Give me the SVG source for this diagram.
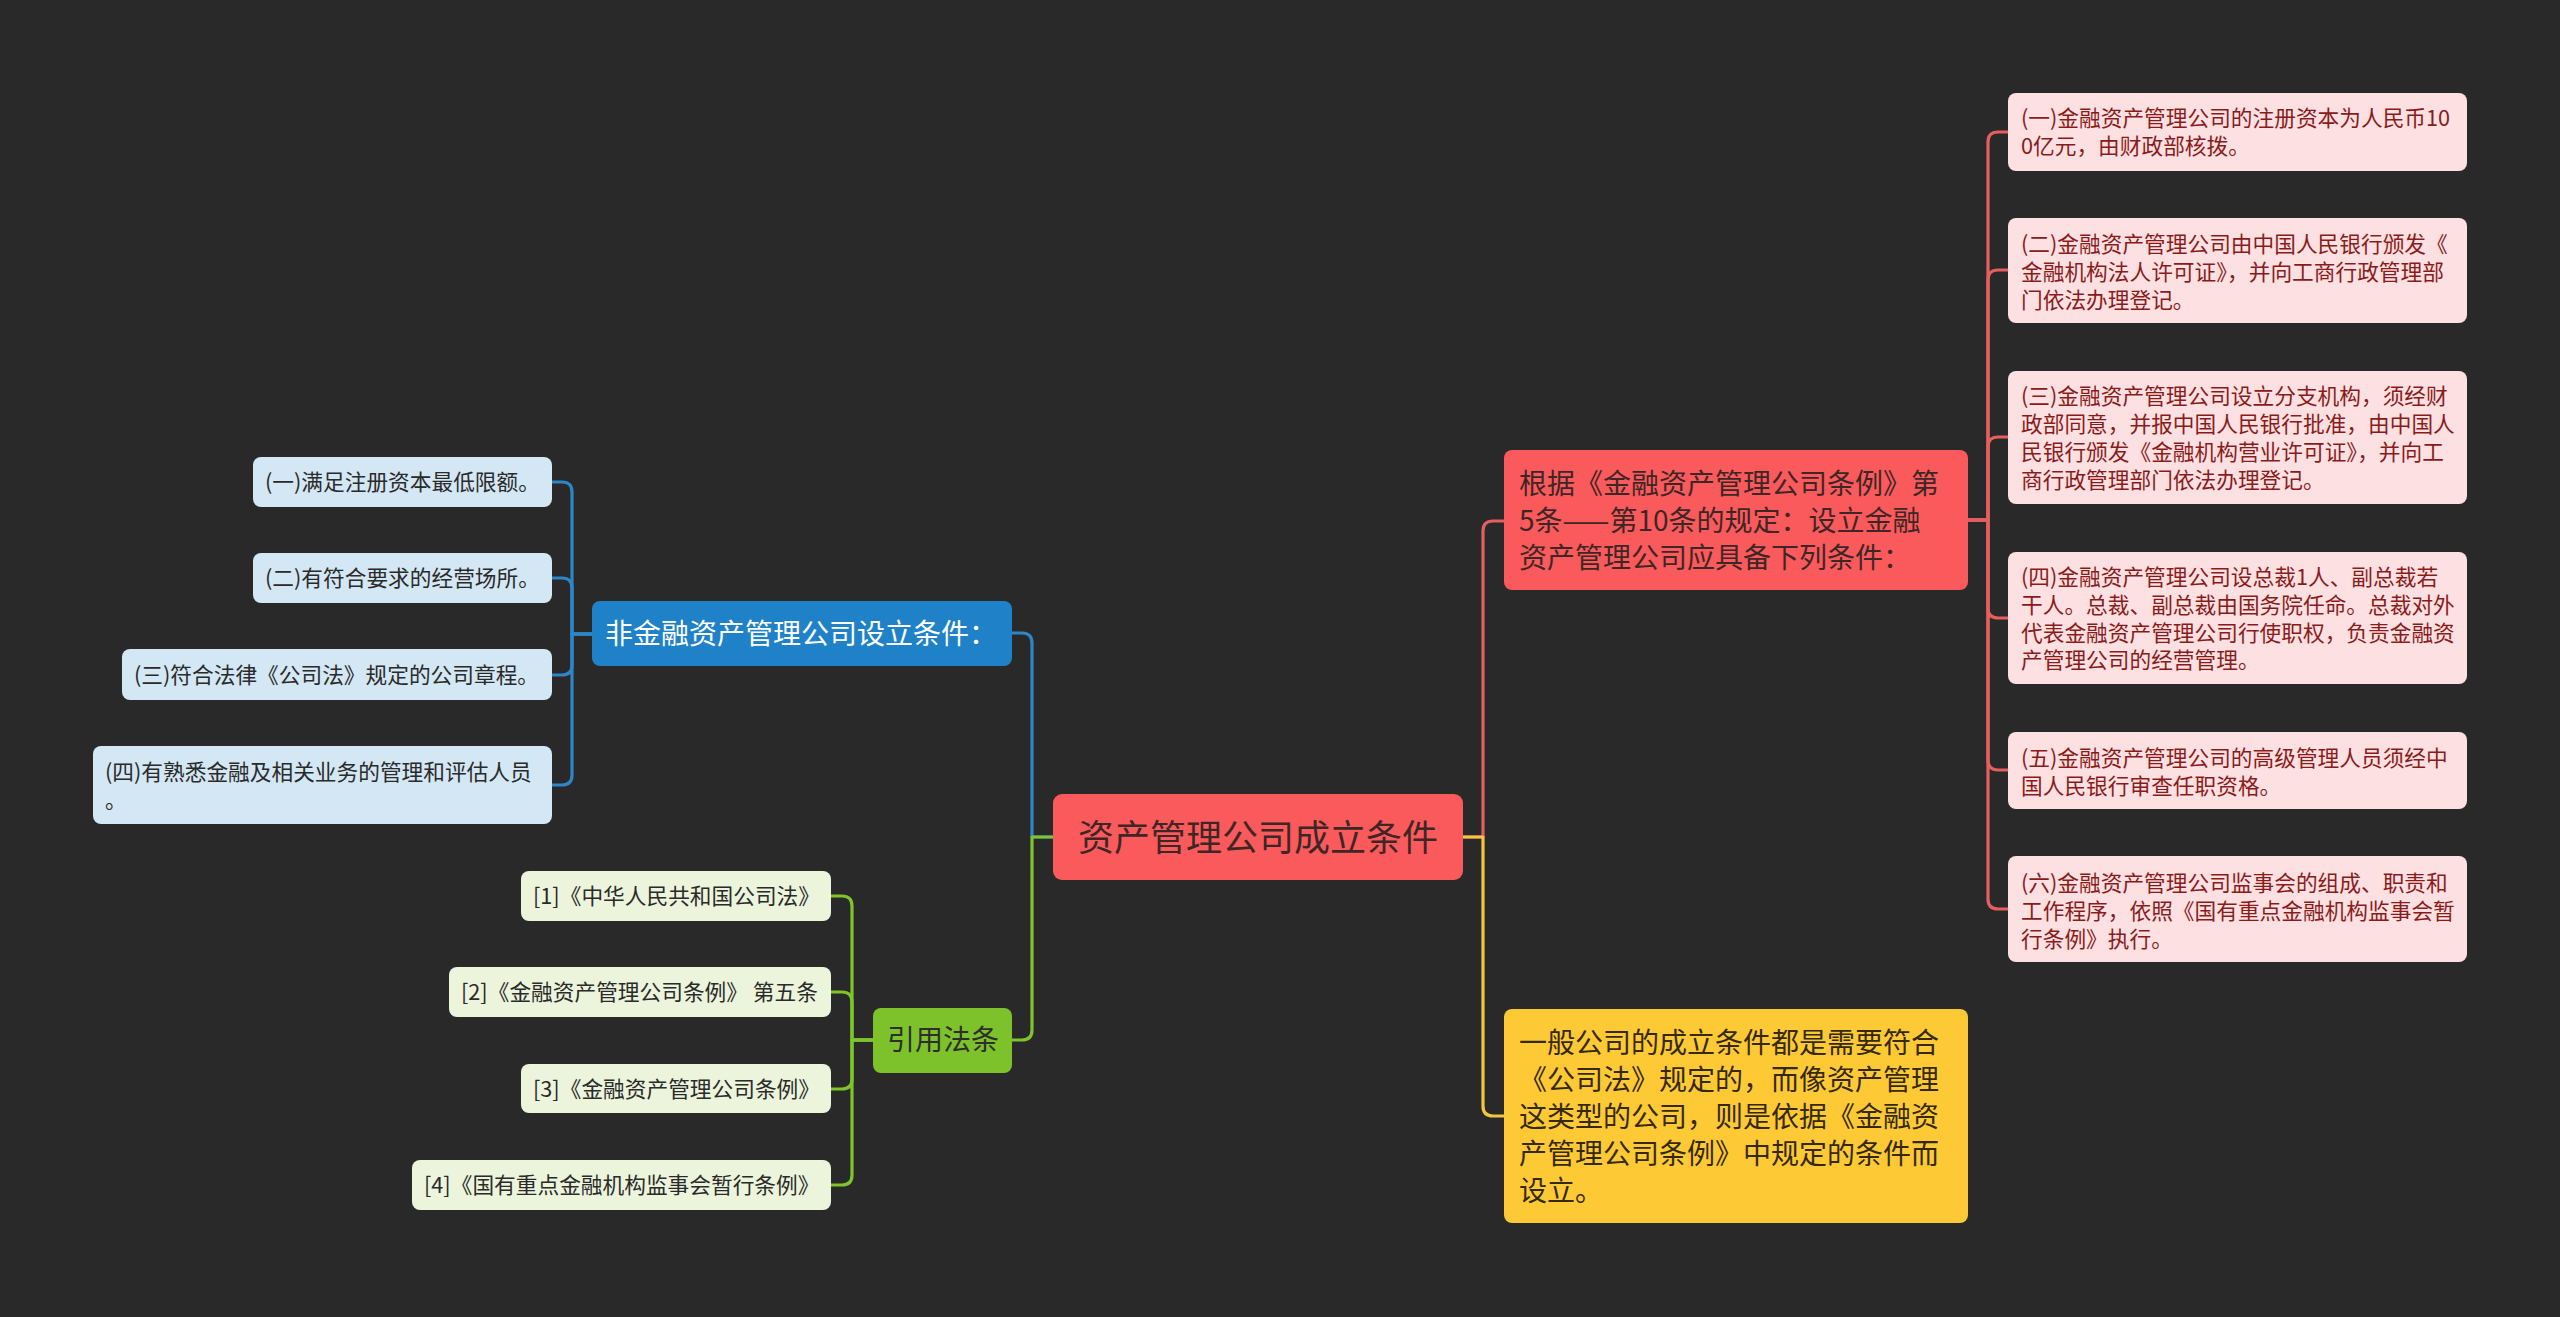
<svg xmlns="http://www.w3.org/2000/svg" width="2560" height="1317" viewBox="0 0 2560 1317">
<style>
text{font-family:"Noto Sans CJK SC","Noto Sans",sans-serif}
.c{fill:none;stroke-width:3.2;stroke-linejoin:round}
.cr{stroke:#e45f5f}.cb{stroke:#2c86c8}.cg{stroke:#7ec42a}.cy{stroke:#f3c642}
.root{fill:#fa5a5b}
.rt{font-size:36px;fill:#3e2626}
.l2{font-size:28px}
.ch{font-size:21.7px}
.pk{fill:#fde0e1}.pkt{fill:#8a1b1b}
.bl{fill:#d4e7f4}.gr{fill:#ecf5dc}.dt{fill:#2a2a2a}
</style>
<rect width="2560" height="1317" fill="#292929"/>
<g id="connectors">
<path class="c cb" d="M1053,837 H1032 V643 Q1032,633 1022,633 H1012"/>
<path class="c cg" d="M1053,837 H1032 V1030 Q1032,1040 1022,1040 H1012"/>
<path class="c cr" d="M1463,837 H1483 V531 Q1483,521 1493,521 H1504"/>
<path class="c cy" d="M1463,837 H1483 V1106 Q1483,1116 1493,1116 H1504"/>
<path class="c cr" d="M1968,520 H1988 V142 Q1988,132 1998,132 H2008"/>
<path class="c cr" d="M1968,520 H1988 V280 Q1988,270 1998,270 H2008"/>
<path class="c cr" d="M1968,520 H1988 V447 Q1988,437 1998,437 H2008"/>
<path class="c cr" d="M1968,520 H1988 V608 Q1988,618 1998,618 H2008"/>
<path class="c cr" d="M1968,520 H1988 V760 Q1988,770 1998,770 H2008"/>
<path class="c cr" d="M1968,520 H1988 V899 Q1988,909 1998,909 H2008"/>
<path class="c cb" d="M592,634 H572 V492 Q572,482 562,482 H552"/>
<path class="c cb" d="M592,634 H572 V588 Q572,578 562,578 H552"/>
<path class="c cb" d="M592,634 H572 V665 Q572,675 562,675 H552"/>
<path class="c cb" d="M592,634 H572 V775 Q572,785 562,785 H552"/>
<path class="c cg" d="M873,1040 H852 V906 Q852,896 842,896 H831"/>
<path class="c cg" d="M873,1040 H852 V1002 Q852,992 842,992 H831"/>
<path class="c cg" d="M873,1040 H852 V1079 Q852,1089 842,1089 H831"/>
<path class="c cg" d="M873,1040 H852 V1175 Q852,1185 842,1185 H831"/>
</g>
<g id="root">
<rect class="root" x="1053" y="794" width="410" height="86" rx="9"/>
<text class="rt" x="1258" y="851" text-anchor="middle">资产管理公司成立条件</text>
</g>
<g id="n-red">
<rect class="root" x="1504" y="450" width="464" height="140" rx="8"/>
<text class="l2" fill="#3e2626"><tspan x="1519" y="494">根据《金融资产管理公司条例》第</tspan><tspan x="1519" y="531">5条——第10条的规定：设立金融</tspan><tspan x="1519" y="568">资产管理公司应具备下列条件：</tspan></text>
</g>
<g id="n-yellow">
<rect x="1504" y="1009" width="464" height="214" rx="8" fill="#fdc935"/>
<text class="l2" fill="#35290a"><tspan x="1519" y="1053">一般公司的成立条件都是需要符合</tspan><tspan x="1519" y="1090">《公司法》规定的，而像资产管理</tspan><tspan x="1519" y="1127">这类型的公司，则是依据《金融资</tspan><tspan x="1519" y="1164">产管理公司条例》中规定的条件而</tspan><tspan x="1519" y="1201">设立。</tspan></text>
</g>
<g id="n-blue">
<rect x="592" y="601" width="420" height="65" rx="8" fill="#1f82c8"/>
<text class="l2" x="605" y="644" fill="#ffffff">非金融资产管理公司设立条件：</text>
</g>
<g id="n-green">
<rect x="873" y="1008" width="139" height="65" rx="8" fill="#7dc22b"/>
<text class="l2" x="887" y="1050" fill="#2e2e2e">引用法条</text>
</g>
<g id="r1">
<rect class="pk" x="2008" y="93" width="459" height="78" rx="8"/>
<text class="ch pkt"><tspan x="2021" y="126">(一)金融资产管理公司的注册资本为人民币10</tspan><tspan x="2021" y="154">0亿元，由财政部核拨。</tspan></text>
</g>
<g id="r2">
<rect class="pk" x="2008" y="218" width="459" height="105" rx="8"/>
<text class="ch pkt"><tspan x="2021" y="252">(二)金融资产管理公司由中国人民银行颁发《</tspan><tspan x="2021" y="280">金融机构法人许可证》，并向工商行政管理部</tspan><tspan x="2021" y="308">门依法办理登记。</tspan></text>
</g>
<g id="r3">
<rect class="pk" x="2008" y="371" width="459" height="133" rx="8"/>
<text class="ch pkt"><tspan x="2021" y="404">(三)金融资产管理公司设立分支机构，须经财</tspan><tspan x="2021" y="432">政部同意，并报中国人民银行批准，由中国人</tspan><tspan x="2021" y="460">民银行颁发《金融机构营业许可证》，并向工</tspan><tspan x="2021" y="488">商行政管理部门依法办理登记。</tspan></text>
</g>
<g id="r4">
<rect class="pk" x="2008" y="552" width="459" height="132" rx="8"/>
<text class="ch pkt"><tspan x="2021" y="585">(四)金融资产管理公司设总裁1人、副总裁若</tspan><tspan x="2021" y="613">干人。总裁、副总裁由国务院任命。总裁对外</tspan><tspan x="2021" y="641">代表金融资产管理公司行使职权，负责金融资</tspan><tspan x="2021" y="668">产管理公司的经营管理。</tspan></text>
</g>
<g id="r5">
<rect class="pk" x="2008" y="732" width="459" height="77" rx="8"/>
<text class="ch pkt"><tspan x="2021" y="766">(五)金融资产管理公司的高级管理人员须经中</tspan><tspan x="2021" y="794">国人民银行审查任职资格。</tspan></text>
</g>
<g id="r6">
<rect class="pk" x="2008" y="856" width="459" height="106" rx="8"/>
<text class="ch pkt"><tspan x="2021" y="891">(六)金融资产管理公司监事会的组成、职责和</tspan><tspan x="2021" y="919">工作程序，依照《国有重点金融机构监事会暂</tspan><tspan x="2021" y="947">行条例》执行。</tspan></text>
</g>
<g id="b1">
<rect class="bl" x="253" y="457" width="299" height="50" rx="8"/>
<text class="ch dt" x="265" y="490">(一)满足注册资本最低限额。</text>
</g>
<g id="b2">
<rect class="bl" x="253" y="553" width="299" height="50" rx="8"/>
<text class="ch dt" x="265" y="586">(二)有符合要求的经营场所。</text>
</g>
<g id="b3">
<rect class="bl" x="122" y="649" width="430" height="51" rx="8"/>
<text class="ch dt" x="134" y="683">(三)符合法律《公司法》规定的公司章程。</text>
</g>
<g id="b4">
<rect class="bl" x="93" y="746" width="459" height="78" rx="8"/>
<text class="ch dt"><tspan x="105" y="780">(四)有熟悉金融及相关业务的管理和评估人员</tspan><tspan x="105" y="808">。</tspan></text>
</g>
<g id="g1">
<rect class="gr" x="521" y="871" width="310" height="50" rx="8"/>
<text class="ch dt" x="533" y="904">[1]《中华人民共和国公司法》</text>
</g>
<g id="g2">
<rect class="gr" x="449" y="967" width="382" height="50" rx="8"/>
<text class="ch dt" x="461" y="1000">[2]《金融资产管理公司条例》 第五条</text>
</g>
<g id="g3">
<rect class="gr" x="521" y="1064" width="310" height="49" rx="8"/>
<text class="ch dt" x="533" y="1097">[3]《金融资产管理公司条例》</text>
</g>
<g id="g4">
<rect class="gr" x="412" y="1160" width="419" height="50" rx="8"/>
<text class="ch dt" x="424" y="1193">[4]《国有重点金融机构监事会暂行条例》</text>
</g>
</svg>
